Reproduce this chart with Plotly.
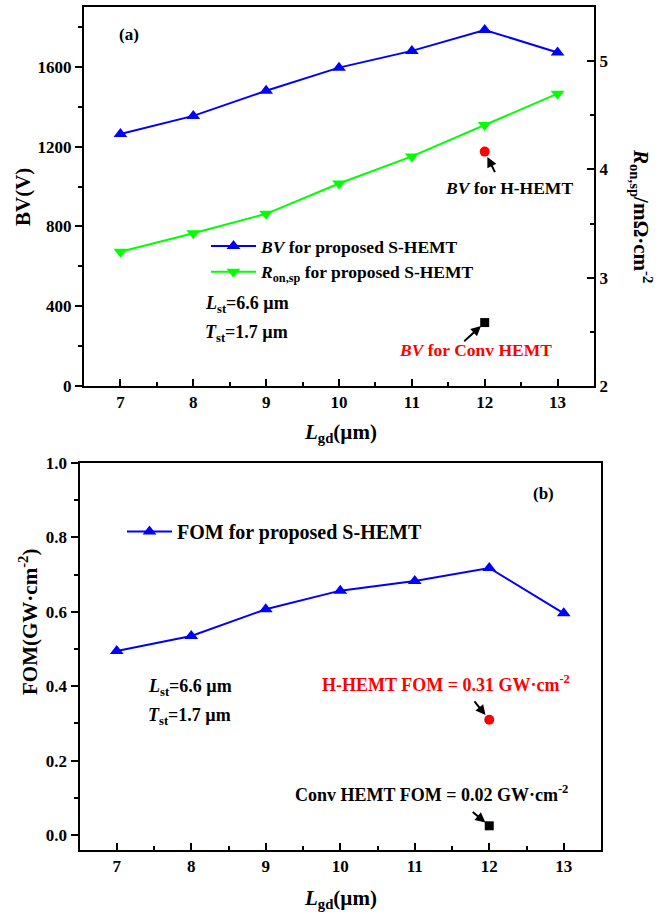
import plotly.graph_objects as go

# ---- data ----
lgd = [7, 8, 9, 10, 11, 12, 13]
bv_shemt = [1263, 1354, 1480, 1596, 1680, 1785, 1672]
ron_shemt = [3.24, 3.41, 3.59, 3.87, 4.12, 4.41, 4.70]
fom_shemt = [0.495, 0.535, 0.607, 0.657, 0.683, 0.718, 0.596]
ref_x = [12]
bv_hhemt = [1175]
bv_conv = [318]
fom_hhemt = [0.31]
fom_conv = [0.025]

FONT = "Liberation Serif, Times New Roman, serif"
W, H = 669, 915


def f(size, color="black"):
    return dict(family=FONT, size=size, color=color, weight="bold")


fig = go.Figure()

# top panel
fig.add_trace(go.Scatter(x=lgd, y=bv_shemt, mode="lines+markers", xaxis="x", yaxis="y",
                         line=dict(color="#0000FF", width=2),
                         marker=dict(symbol="triangle-up", size=12, color="#0000FF"),
                         name="<i>BV</i> for proposed S-HEMT", legend="legend"))
fig.add_trace(go.Scatter(x=lgd, y=ron_shemt, mode="lines+markers", xaxis="x", yaxis="y2",
                         line=dict(color="#00FF00", width=2),
                         marker=dict(symbol="triangle-down", size=12, color="#00FF00"),
                         name="<i>R</i><sub>on,sp</sub> for proposed S-HEMT", legend="legend"))
fig.add_trace(go.Scatter(x=ref_x, y=bv_hhemt, mode="markers", xaxis="x", yaxis="y",
                         marker=dict(symbol="circle", size=10, color="#FF0000"), showlegend=False))
fig.add_trace(go.Scatter(x=ref_x, y=bv_conv, mode="markers", xaxis="x", yaxis="y",
                         marker=dict(symbol="square", size=9, color="black"), showlegend=False))

# bottom panel
fig.add_trace(go.Scatter(x=lgd, y=fom_shemt, mode="lines+markers", xaxis="x2", yaxis="y3",
                         line=dict(color="#0000FF", width=2),
                         marker=dict(symbol="triangle-up", size=12, color="#0000FF"),
                         name="FOM for proposed S-HEMT", legend="legend2"))
fig.add_trace(go.Scatter(x=ref_x, y=fom_hhemt, mode="markers", xaxis="x2", yaxis="y3",
                         marker=dict(symbol="circle", size=10, color="#FF0000"), showlegend=False))
fig.add_trace(go.Scatter(x=ref_x, y=fom_conv, mode="markers", xaxis="x2", yaxis="y3",
                         marker=dict(symbol="square", size=9, color="black"), showlegend=False))

axis_common = dict(showline=True, linewidth=2, linecolor="black", showgrid=False, zeroline=False,
                   tickfont=f(17), tickcolor="black", tickwidth=1.5, ticklen=7, automargin=False)
minor_in = dict(ticks="inside", ticklen=4, tickcolor="black", tickwidth=1.5)
minor_out = dict(ticks="outside", ticklen=4, tickcolor="black", tickwidth=1.5)

fig.update_layout(
    template="none",
    width=W, height=H,
    margin=dict(l=0, r=0, t=0, b=0, pad=0, autoexpand=False),
    paper_bgcolor="white", plot_bgcolor="white",
    font=f(17),
    xaxis=dict(domain=[84 / W, 594 / W], anchor="y", range=[6.5, 13.5], tick0=7, dtick=1,
               ticks="inside", mirror=True, minor=dict(dtick=0.5, **minor_in), **axis_common),
    yaxis=dict(domain=[1 - 386 / H, 1 - 7 / H], anchor="x", range=[0, 1900], tick0=0, dtick=400,
               ticks="outside", minor=dict(dtick=200, **minor_out), **axis_common),
    yaxis2=dict(overlaying="y", side="right", anchor="x", range=[2, 5.5], tick0=2, dtick=1,
                ticks="inside", minor=dict(dtick=0.5, **minor_in), **axis_common),
    xaxis2=dict(domain=[79.5 / W, 601 / W], anchor="y3", range=[6.5, 13.5], tick0=7, dtick=1,
                ticks="inside", mirror=True, minor=dict(dtick=0.5, **minor_in), **axis_common),
    yaxis3=dict(domain=[1 - 850 / H, 1 - 463 / H], anchor="x2", range=[-0.04, 1.0], tick0=0, dtick=0.2,
                tickformat=".1f", ticks="outside", mirror=True, minor=dict(dtick=0.1, **minor_out),
                **axis_common),
    legend=dict(x=206 / W, y=1 - 228 / H, xanchor="left", yanchor="top", bgcolor="rgba(0,0,0,0)",
                font=f(17.5), tracegroupgap=0, itemwidth=45, borderwidth=0),
    legend2=dict(x=122 / W, y=1 - 512 / H, xanchor="left", yanchor="top", bgcolor="rgba(0,0,0,0)",
                 font=f(20), itemwidth=45, borderwidth=0),
    hovermode=False,
)

ann = []


def txt(text, x, y, size, xref="paper", yref="paper", color="black", xanchor="center",
        yanchor="middle", angle=0):
    ann.append(dict(text=text, x=x, y=y, xref=xref, yref=yref, showarrow=False, font=f(size, color),
                    xanchor=xanchor, yanchor=yanchor, textangle=angle))


def px(xp):
    return xp / W


def py(yp):
    return 1 - yp / H


# axis titles
txt("BV(V)", px(23), py(197), 21, angle=-90)
txt("<i>R</i><sub>on,sp</sub>/mΩ·cm<sup>-2</sup>", px(641), py(216), 21, angle=90)
txt("<i>L</i><sub>gd</sub>(µm)", px(340), py(433), 21)
txt("FOM(GW·cm<sup>-2</sup>)", px(28), py(622), 21, angle=-90)
txt("<i>L</i><sub>gd</sub>(µm)", px(340), py(899), 21)

# panel labels and notes
txt("(a)", px(129), py(34), 17)
txt("(b)", px(543), py(493), 17)
txt("<i>L</i><sub>st</sub>=6.6 µm", px(203), py(304), 18, xanchor="left")
txt("<i>T</i><sub>st</sub>=1.7 µm", px(203), py(333), 18, xanchor="left")
txt("<i>L</i><sub>st</sub>=6.6 µm", px(146), py(687), 18, xanchor="left")
txt("<i>T</i><sub>st</sub>=1.7 µm", px(146), py(716), 18, xanchor="left")
txt("<i>BV</i> for H-HEMT", px(509), py(188), 17.5)
txt("<i>BV</i> for Conv HEMT", px(475), py(350), 17.5, color="#FF0000")
txt("H-HEMT FOM = 0.31 GW·cm<sup>-2</sup>", px(446), py(683), 18, color="#FF0000")
txt("Conv HEMT FOM = 0.02 GW·cm<sup>-2</sup>", px(431), py(793), 18)

# arrows
arrow = dict(text="", showarrow=True, arrowhead=2, arrowsize=1, arrowwidth=2, arrowcolor="black")
ann.append(dict(x=ref_x[0], y=bv_hhemt[0], xref="x", yref="y", ax=11, ay=22, standoff=6, **arrow))
ann.append(dict(x=ref_x[0], y=bv_conv[0], xref="x", yref="y", ax=-22, ay=20, standoff=5, **arrow))
ann.append(dict(x=ref_x[0], y=fom_hhemt[0], xref="x2", yref="y3", ax=-16, ay=-20, standoff=6, **arrow))
ann.append(dict(x=ref_x[0], y=fom_conv[0], xref="x2", yref="y3", ax=-18, ay=-15, standoff=5, **arrow))

fig.update_layout(annotations=ann)
fig.write_html("out.html")
